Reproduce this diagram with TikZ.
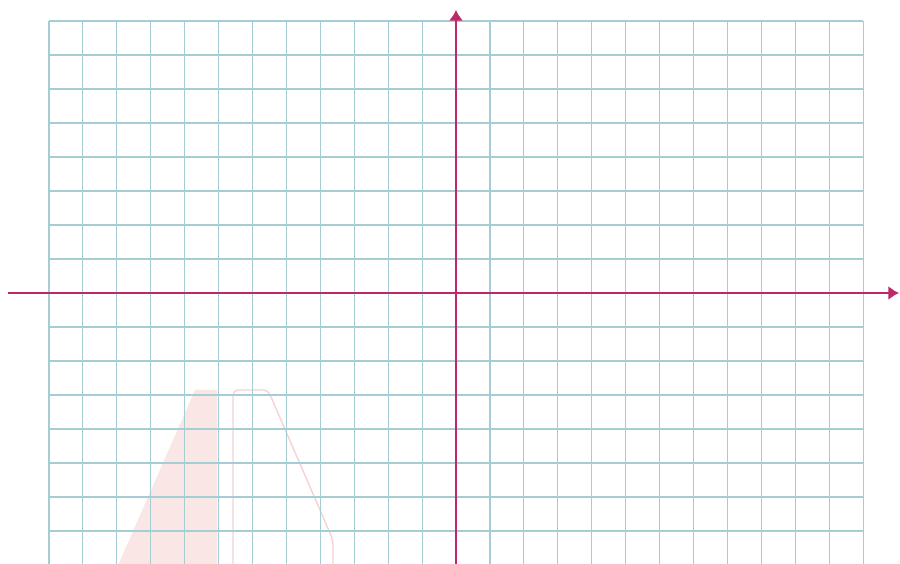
\documentclass[tikz,border=0pt]{standalone}
\usetikzlibrary{arrows.meta}
\definecolor{gridc}{RGB}{165,205,212}
\definecolor{axisc}{RGB}{190,40,105}
\definecolor{fadefill}{RGB}{251,230,230}
\definecolor{fadeline}{RGB}{247,210,210}
\tikzset{
  gridline/.style={draw=gridc, line width=0.65pt},
  axisline/.style={draw=axisc, line width=1.2pt, -{Latex[length=6pt,width=8pt]}},
}
\begin{document}
\begin{tikzpicture}[x=0.02cm,y=-0.02cm]
\useasboundingbox (0,0) rectangle (900,564);
\fill[white] (0,0) rectangle (900,564);
\begin{scope}
\clip (0,0) rectangle (900,564);
% faded watermark shapes
\fill[fadefill] (195,390) -- (217,390) -- (217,570) -- (116,570) -- cycle;
\draw[fadeline, line width=0.8pt, rounded corners=3pt] (233,570) -- (233,390) -- (268,390) -- (333,540) -- (333,570);
% grid
\foreach \i in {0,...,24} \draw[gridline] ({49+33.92*\i},21) -- ({49+33.92*\i},570);
\foreach \j in {0,...,16} \draw[gridline] (49,{21+34*\j}) -- (863,{21+34*\j});
\end{scope}
% axes
\coordinate (xl) at (8,293);
\coordinate (xr) at (899,293);
\coordinate (yb) at (456,566);
\coordinate (yt) at (456,10);
\draw[axisline] (xl) -- (xr);
\draw[axisline] (yb) -- (yt);
\end{tikzpicture}
\end{document}
